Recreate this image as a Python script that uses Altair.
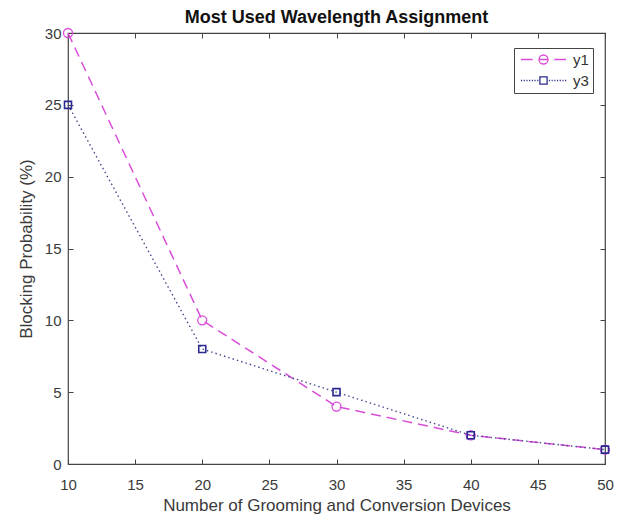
import altair as alt
import pandas as pd

# ---- data ----
x_vals = [10, 20, 30, 40, 50]
y1_vals = [30, 10, 4, 2, 1]
y3_vals = [25, 8, 5, 2, 1]
series = ["y1", "y3"]
x_ticks = [10, 15, 20, 25, 30, 35, 40, 45, 50]
y_ticks = [0, 5, 10, 15, 20, 25, 30]

C1 = "#d94cd9"
C3 = "#2a2a8f"
C3_LINE = "#4a4a8f"
FONT = "Liberation Sans"

df = pd.DataFrame({
    "x": x_vals + x_vals,
    "y": y1_vals + y3_vals,
    "s": ["y1"] * len(x_vals) + ["y3"] * len(x_vals),
})

W, H = 537, 431

xs = alt.Scale(domain=[10, 50], nice=False, zero=False)
ys = alt.Scale(domain=[0, 30], nice=False, zero=True)

base = alt.Chart(df)

def xenc(axis):
    return alt.X("x:Q", scale=xs, axis=axis)

def yenc(axis):
    return alt.Y("y:Q", scale=ys, axis=axis)

# axis with labels & titles (no ticks)
x_lab = alt.Axis(orient="bottom", values=x_ticks, ticks=False, domain=False, grid=False,
                 labelFlush=False, labelPadding=13,
                 title="Number of Grooming and Conversion Devices", titlePadding=5)
y_lab = alt.Axis(orient="left", values=y_ticks, ticks=False, domain=False, grid=False,
                 labelFlush=False, labelPadding=7,
                 title="Blocking Probability (%)", titlePadding=9)
# inward ticks at bottom / left
x_tb = alt.Axis(orient="top", offset=-H, values=x_ticks, labels=False, domain=False,
                grid=False, ticks=True, tickSize=5, title=None)
y_tl = alt.Axis(orient="right", offset=-W, values=y_ticks, labels=False, domain=False,
                grid=False, ticks=True, tickSize=5, title=None)
# inward ticks at top / right
x_tt = alt.Axis(orient="bottom", offset=-H, values=x_ticks, labels=False, domain=False,
                grid=False, ticks=True, tickSize=5, title=None)
y_tr = alt.Axis(orient="left", offset=-W, values=y_ticks, labels=False, domain=False,
                grid=False, ticks=True, tickSize=5, title=None)

line1 = base.transform_filter(alt.datum.s == "y1").mark_line(
    color=C1, strokeWidth=1.5, strokeDash=[10, 6]
).encode(x=xenc(x_lab), y=yenc(y_lab))

line3 = base.transform_filter(alt.datum.s == "y3").mark_line(
    color=C3_LINE, strokeWidth=1.4, strokeDash=[1.5, 3]
).encode(x=xenc(x_tb), y=yenc(y_tl))

pts1 = base.transform_filter(alt.datum.s == "y1").mark_point(
    shape="circle", filled=False, color=C1, size=81, strokeWidth=1.3, opacity=1
).encode(x=xenc(x_tt), y=yenc(y_tr))

pts3 = base.transform_filter(alt.datum.s == "y3").mark_point(
    shape="square", filled=False, color=C3, size=49, strokeWidth=1.6, opacity=1
).encode(x=xenc(None), y=yenc(None))

# legend symbols: line + marker drawn as one custom path
circ = "M-1,0A1,1 0 1,1 1,0A1,1 0 1,1 -1,0"
path1 = "M-5,0L-2.4,0M-1,0L1,0M2.4,0L5,0" + circ
dots = ""
p = -5.0
while p < -1.1:
    dots += f"M{p:.2f},0L{p + 0.25:.2f},0"
    p += 0.6
p = 1.2
while p < 5.0:
    dots += f"M{p:.2f},0L{p + 0.25:.2f},0"
    p += 0.6
path3 = dots + "M-0.8,-0.8L0.8,-0.8L0.8,0.8L-0.8,0.8Z"

legend_layer = base.transform_filter(alt.datum.x < 0).mark_point(
    filled=False, size=81, strokeWidth=1.3, opacity=1
).encode(
    x=xenc(None), y=yenc(None),
    color=alt.Color("s:N", scale=alt.Scale(domain=series, range=[C1, C3]), legend=alt.Legend(
        title=None, orient="none", legendX=446, legendY=15,
        strokeColor="#444444", fillColor="white", padding=4,
        symbolOffset=18, labelOffset=22, rowPadding=5,
        labelFontSize=15, labelFont=FONT, labelColor="#333333",
        symbolStrokeWidth=1.3, symbolSize=81,
    )),
    shape=alt.Shape("s:N", scale=alt.Scale(domain=series, range=[path1, path3]), legend=None),
)

chart = alt.layer(line1, line3, pts1, pts3, legend_layer).resolve_axis(
    x="independent", y="independent"
).properties(
    width=W, height=H,
    autosize=alt.AutoSizeParams(type="none"),
    padding={"left": 60, "top": 25, "right": 12, "bottom": 50},
    title=alt.TitleParams("Most Used Wavelength Assignment", fontSize=18, fontWeight="bold",
                          font=FONT, color="#111111", anchor="middle", offset=6, dy=7),
).configure_view(
    stroke="#444444", strokeWidth=1.2
).configure_axis(
    labelFont=FONT, labelFontSize=15, labelColor="#3a3a3a",
    titleFont=FONT, titleFontSize=17, titleFontWeight="normal", titleColor="#3a3a3a",
    tickColor="#444444", tickWidth=1,
)

chart.save("out.html", embed_options={"renderer": "svg", "actions": False})
